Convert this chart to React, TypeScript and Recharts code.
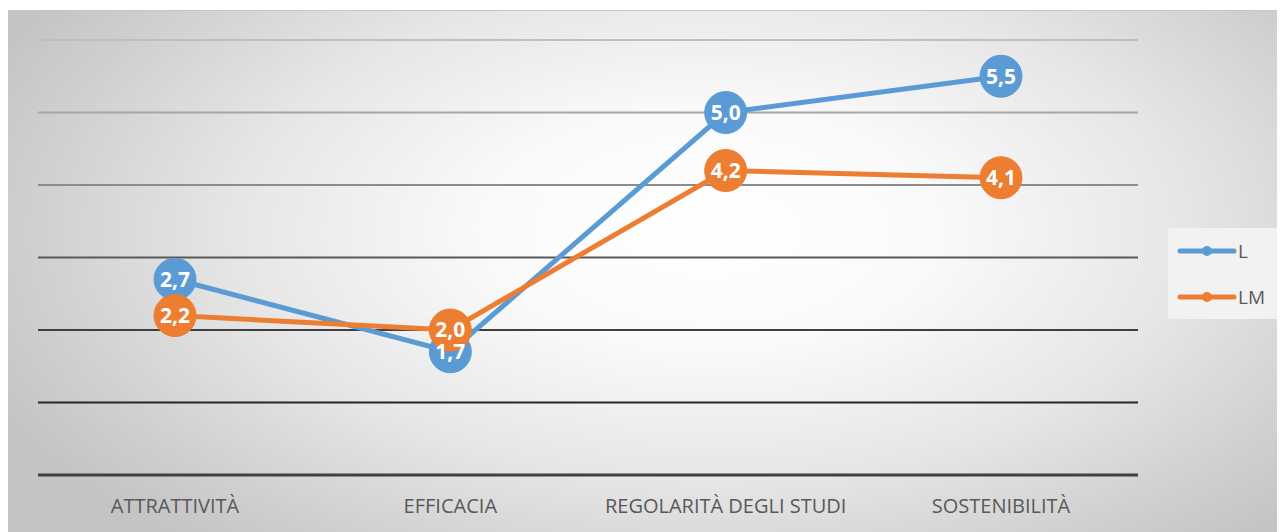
import { LineChart, Line, XAxis, YAxis, CartesianGrid, LabelList } from "recharts";

const categories = ["ATTRATTIVITÀ", "EFFICACIA", "REGOLARITÀ DEGLI STUDI", "SOSTENIBILITÀ"];
const seriesL = [2.7, 1.7, 5.0, 5.5];
const seriesLM = [2.2, 2.0, 4.2, 4.1];
const yTicks = [0, 1, 2, 3, 4, 5, 6];

const BLUE = "#5B9BD5";
const ORANGE = "#ED7D31";
// gridline colours get darker towards the bottom, keyed by tick value
const GRID_COLORS: Record<number, string> = {
  6: "#bfbfbf",
  5: "#a6a6a6",
  4: "#8c8c8c",
  3: "#595959",
  2: "#3f3f3f",
  1: "#262626",
  0: "#404040",
};

const data = categories.map((name, i) => ({ name, L: seriesL[i], LM: seriesLM[i] }));

const fmt = (v: any) => Number(v).toFixed(1).replace(".", ",");

const PLOT_TOP = 30;
const PLOT_BOTTOM = 464;

const GridLine = (props: any) => {
  const { x1, x2, y1, y2 } = props;
  // which tick is this, from its vertical position
  const val = Math.round(((PLOT_BOTTOM - y1) / (PLOT_BOTTOM - PLOT_TOP)) * 6);
  if (val === 0) return null;
  const c = GRID_COLORS[val] ?? "#999";
  return <line x1={x1} x2={x2} y1={y1} y2={y2} stroke={c} strokeWidth={2} />;
};

const LegendBox = () => (
  <div
    style={{
      position: "absolute",
      left: 1160,
      top: 217,
      width: 111,
      height: 91,
      background: "#f2f2f2",
    }}
  >
    <svg width={111} height={91}>
      {[
        { name: "L", color: BLUE, y: 23 },
        { name: "LM", color: ORANGE, y: 69 },
      ].map((it) => (
        <g key={it.name}>
          <line x1={12} x2={66} y1={it.y} y2={it.y} stroke={it.color} strokeWidth={5} strokeLinecap="round" />
          <circle cx={39} cy={it.y} r={5} fill={it.color} />
          <text x={70} y={it.y + 7} fontSize={19} fill="#595959" fontFamily="Open Sans, sans-serif">
            {it.name}
          </text>
        </g>
      ))}
    </svg>
  </div>
);

export default function App() {
  return (
    <div
      style={{
        position: "relative",
        marginTop: 2,
        width: 1277,
        height: 522,
        borderTop: "1px solid #c6c6c6",
        boxSizing: "border-box",
        background:
          "radial-gradient(ellipse 62% 80% at 55% 42%, #ffffff 0%, #fafafa 28%, #e6e6e6 60%, #d0d0d0 85%, #c4c4c4 100%)",
        fontFamily: "Open Sans, sans-serif",
      }}
    >
      <LineChart width={1277} height={521} data={data} margin={{ top: 29, right: 147, left: 30, bottom: 0 }}>
        <CartesianGrid vertical={false} horizontal={(p: any) => <GridLine {...p} />} />
        <XAxis
          dataKey="name"
          height={57}
          padding={{ left: 137, right: 137 }}
          axisLine={{ stroke: "#404040", strokeWidth: 3 }}
          tickLine={false}
          tickMargin={18}
          tick={{ fill: "#595959", fontSize: 20 }}
        />
        <YAxis hide domain={[0, 6]} ticks={yTicks} />
        <Line
          dataKey="L"
          stroke={BLUE}
          strokeWidth={5}
          dot={{ r: 21, fill: BLUE, stroke: BLUE, strokeWidth: 1 }}
          activeDot={false}
          isAnimationActive={false}
        >
          <LabelList dataKey="L" position="center" formatter={fmt} fill="#ffffff" fontSize={21} fontWeight="bold" />
        </Line>
        <Line
          dataKey="LM"
          stroke={ORANGE}
          strokeWidth={5}
          dot={{ r: 21, fill: ORANGE, stroke: ORANGE, strokeWidth: 1 }}
          activeDot={false}
          isAnimationActive={false}
        >
          <LabelList dataKey="LM" position="center" formatter={fmt} fill="#ffffff" fontSize={21} fontWeight="bold" />
        </Line>
      </LineChart>
      <LegendBox />
    </div>
  );
}
